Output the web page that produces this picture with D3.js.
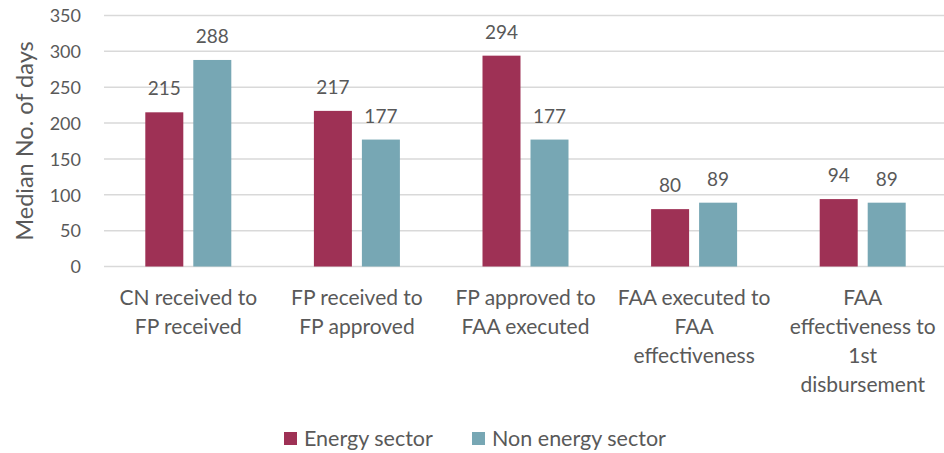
<!DOCTYPE html>
<html><head><meta charset="utf-8">
<script src="https://cdn.jsdelivr.net/npm/d3@7"></script>
<style>body{margin:0;background:#fff}svg{display:block}text{font-family:Lato,"Open Sans",sans-serif;fill:#595959}</style>
</head><body><svg id="c" width="944" height="453"></svg>
<script>
const categories = [
  ["CN received to","FP received"],
  ["FP received to","FP approved"],
  ["FP approved to","FAA executed"],
  ["FAA executed to","FAA","effectiveness"],
  ["FAA","effectiveness to","1st","disbursement"]
];
const seriesNames = ["Energy sector","Non energy sector"];
const energy = [215,217,294,80,94];
const nonEnergy = [288,177,177,89,89];
const yTicks = [0,50,100,150,200,250,300,350];
const colors = ["#9E3155","#77A7B4"];

const svg = d3.select("#c");
const x0 = d3.scaleBand().domain(d3.range(categories.length)).range([104,947]);
const y = d3.scaleLinear().domain([0,350]).range([266.5,15.5]);
const barW = 38, gap = 10;

const grid = svg.append("g");
grid.selectAll("line").data(yTicks).join("line")
  .attr("x1",104).attr("x2",944).attr("y1",d=>y(d)).attr("y2",d=>y(d))
  .attr("stroke","#D9D9D9").attr("stroke-width",1.5);

const yAxis = svg.append("g").attr("transform","translate(81,0)")
  .call(d3.axisLeft(y).tickValues(yTicks).tickSize(0).tickPadding(0));
yAxis.select(".domain").remove();
yAxis.selectAll("text").style("font-size","18px").attr("fill","#595959").attr("dy","0.35em");

svg.append("text").attr("transform","translate(33,141) rotate(-90)")
  .attr("text-anchor","middle").style("font-size","23.5px").text("Median No. of days");

const data = [energy, nonEnergy];
data.forEach((vals,s)=>{
  const g = svg.append("g");
  g.selectAll("rect").data(vals).join("rect")
    .attr("x",(d,i)=>x0(i)+x0.bandwidth()/2 + (s===0 ? -gap/2-barW : gap/2))
    .attr("width",barW)
    .attr("y",d=>y(d)).attr("height",d=>y(0)-y(d))
    .attr("fill",colors[s]);
  g.selectAll("text").data(vals).join("text")
    .attr("x",(d,i)=>x0(i)+x0.bandwidth()/2 + (s===0 ? -gap/2-barW/2 : gap/2+barW/2))
    .attr("y",d=>y(d)-17)
    .attr("text-anchor","middle").style("font-size","19px").text(d=>d);
});

const xl = svg.append("g");
categories.forEach((lines,i)=>{
  const t = xl.append("text").attr("text-anchor","middle").style("font-size","21px")
    .attr("transform",`translate(${x0(i)+x0.bandwidth()/2},305)`);
  lines.forEach((l,j)=>t.append("tspan").attr("x",0).attr("y",j*29).text(l));
});

const legX = [284,472];
seriesNames.forEach((n,i)=>{
  svg.append("rect").attr("x",legX[i]).attr("y",432).attr("width",13).attr("height",13).attr("fill",colors[i]);
  svg.append("text").attr("x",legX[i]+20).attr("y",446).style("font-size",i===0?"21.5px":"21.5px").text(n);
});
</script></body></html>
